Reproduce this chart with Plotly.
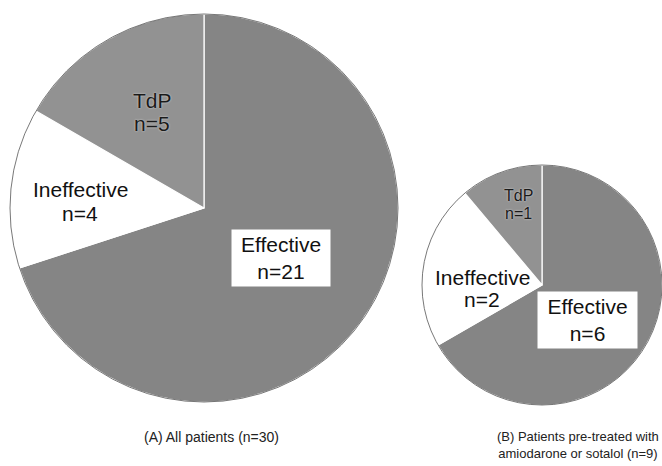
import plotly.graph_objects as go

# ---- data ----
labels = ["Effective", "Ineffective", "TdP"]
values_a = [21, 4, 5]
values_b = [6, 2, 1]
slice_colors = ["#858585", "#ffffff", "#929292"]
caption_a = "(A) All patients (n=30)"
caption_b = "(B) Patients pre-treated with<br>amiodarone or sotalol (n=9)"

W, H = 662, 466

def px(x):
    return x / W

def py(y):
    return 1 - y / H

# pie placement (pixel centre, radius)
pies = [
    dict(vals=values_a, cx=204, cy=208, r=194),
    dict(vals=values_b, cx=542, cy=285, r=120),
]

fig = go.Figure()
shapes = []
for p in pies:
    fig.add_trace(go.Pie(
        labels=labels, values=p["vals"], sort=False, direction="clockwise",
        rotation=0, textinfo="none", hoverinfo="label+value",
        marker=dict(colors=slice_colors, line=dict(color="white", width=1.2)),
        domain=dict(x=[px(p["cx"] - p["r"]), min(1, px(p["cx"] + p["r"]))],
                    y=[py(p["cy"] + p["r"]), py(p["cy"] - p["r"])]),
        showlegend=False,
    ))
    shapes.append(dict(type="circle", xref="paper", yref="paper",
                       x0=px(p["cx"] - p["r"]), x1=px(p["cx"] + p["r"]),
                       y0=py(p["cy"] + p["r"]), y1=py(p["cy"] - p["r"]),
                       line=dict(color="#555555", width=0.8), layer="above"))

FONT = "Liberation Sans, Arial, sans-serif"
SZ = 21
lab_font = dict(family=FONT, size=SZ, color="#111111")
halo_font = dict(family=FONT, size=SZ, color="#1a1a1a", shadow="0px 0px 2px #e0e0e0")
ann = []

def add(text, x, y, box=False, **kw):
    d = dict(text=text, x=px(x), y=py(y), xref="paper", yref="paper",
             showarrow=False, font=lab_font, xanchor="center", yanchor="middle")
    if box:
        d.update(bgcolor="white", borderpad=0)
    d.update(kw)
    ann.append(d)

# Pie A labels
add(f"{labels[0]}<br>n={values_a[0]}", 281, 258, box=True, width=98, height=56)
add(labels[1], 80, 189)
add(f"n={values_a[1]}", 80, 213)
add(labels[2], 152, 100, font=halo_font)
add(f"n={values_a[2]}", 152, 123, font=halo_font)
# Pie B labels
add(f"{labels[0]}<br>n={values_b[0]}", 587, 320, box=True, width=99, height=56)
add(labels[1], 482, 277)
add(f"n={values_b[1]}", 482, 299)
small_halo = dict(halo_font, size=16)
add(labels[2], 518, 195, font=small_halo)
add(f"n={values_b[2]}", 518, 214, font=small_halo)

add(caption_a, 211, 437, font=dict(family=FONT, size=14, color="#222222"))
add(caption_b, 578, 445, font=dict(family=FONT, size=13, color="#222222"))

fig.update_layout(
    width=W, height=H, margin=dict(l=0, r=0, t=0, b=0),
    paper_bgcolor="white", plot_bgcolor="white",
    annotations=ann, shapes=shapes,
)

fig.write_html("out.html", config={"displayModeBar": False},
               post_script="document.body.style.margin='0';document.body.style.overflow='hidden';")
